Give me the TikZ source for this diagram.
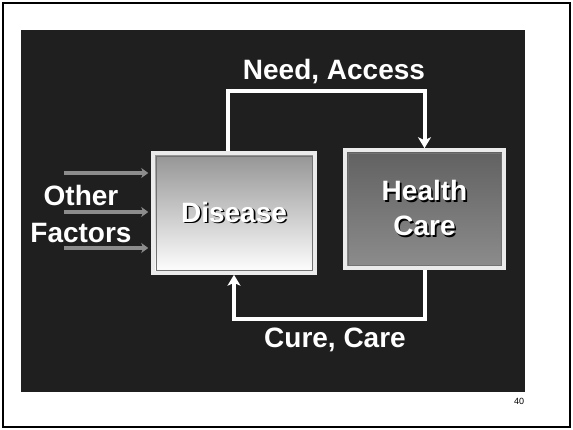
\documentclass[tikz,border=0pt]{standalone}
\usepackage{fontspec}
\setmainfont{Liberation Sans}
\usetikzlibrary{arrows.meta}
\newcommand{\shd}[1]{\rlap{\kern1.6pt\raisebox{-1.6pt}{\textcolor{black}{#1}}}#1}
\begin{document}
\begin{tikzpicture}[x=1pt,y=-1pt,
  boxstyle/.style={draw=black!8, line width=3.5pt, text=white,
    font=\fontsize{28}{35}\selectfont\bfseries, align=center,
    path picture={\draw[black!55,line width=0.8pt]
      ([shift={(3pt,-3pt)}]path picture bounding box.north west) rectangle
      ([shift={(-3pt,3pt)}]path picture bounding box.south east);}},
  lbl/.style={text=white, font=\fontsize{28}{37}\selectfont\bfseries, align=center, inner sep=0pt},
  flow/.style={draw=white, line width=4pt, -{Stealth[length=11pt,width=13pt,inset=3pt]}},
  factor/.style={draw=black!45, line width=3.5pt, -{Stealth[length=7pt,width=10pt,inset=2pt]}, shorten >=3pt}]
\useasboundingbox (0,0) rectangle (573,430);
\draw[line width=1.2pt] (3,3) rectangle (570,427);
\fill[black!88] (21,30) rectangle (525,392);
% boxes
\node[boxstyle, minimum width=162pt, minimum height=120pt, top color=black!42, bottom color=white] (disease) at (234,213) {\shd{Disease}};
\node[boxstyle, minimum width=159pt, minimum height=118pt, top color=black!62, bottom color=black!45] (health) at (424.5,209) {\shd{Health}\\\shd{Care}};
% labels
\node[lbl] (need) at (334,72) {Need, Access};
\node[lbl] (cure) at (335,340) {Cure, Care};
\node[lbl] (other) at (81,214) {Other\\Factors};
\node[font=\fontsize{9}{10}\selectfont, inner sep=0pt] (pagenum) at (519,401) {40};
% connectors
\draw[flow] ([xshift=-6pt]disease.north) -- ++(0,-60) -| (health.north);
\draw[flow] (health.south) -- ++(0,49) -| (disease.south);
% other factors arrows
\coordinate (of1) at (64,173);
\coordinate (of2) at (64,212);
\coordinate (of3) at (64,248);
\draw[factor] (of1) -- (of1 -| disease.west);
\draw[factor] (of2) -- (of2 -| disease.west);
\draw[factor] (of3) -- (of3 -| disease.west);
\end{tikzpicture}
\end{document}
